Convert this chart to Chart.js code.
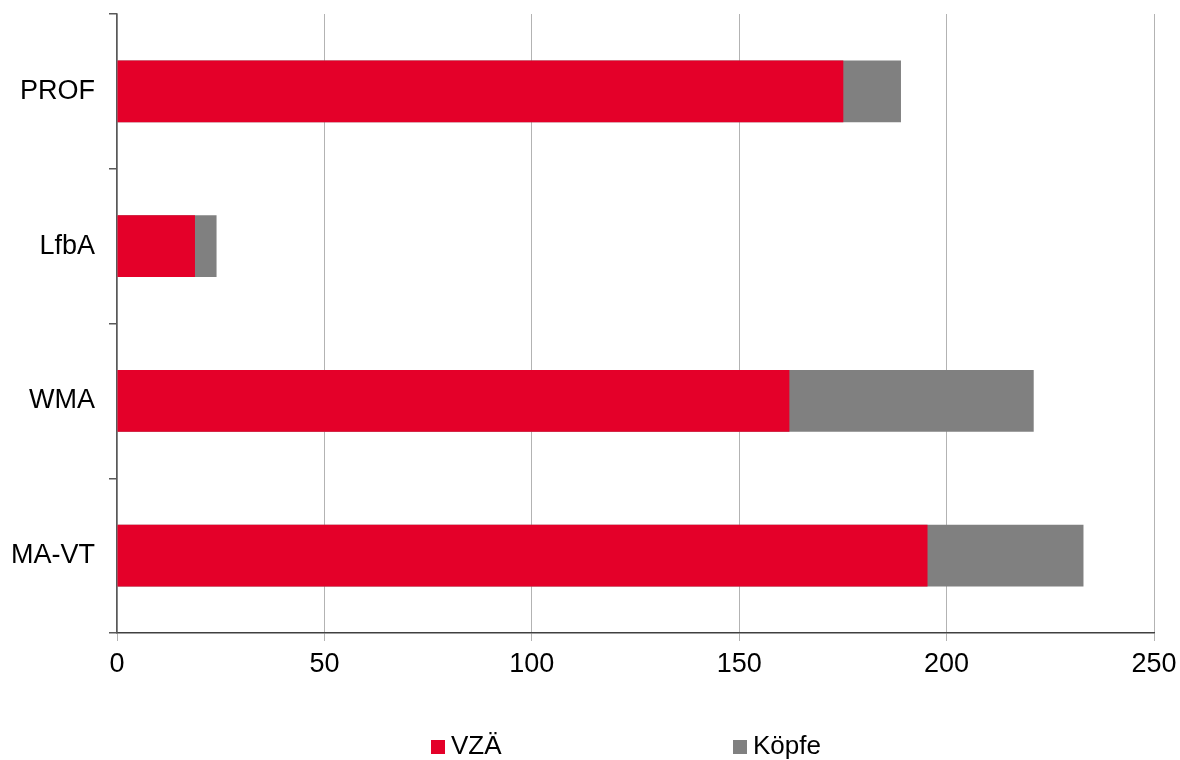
<!DOCTYPE html>
<html>
<head>
<meta charset="utf-8">
<script src="https://cdn.jsdelivr.net/npm/chart.js@4"></script>
<style>
  body { margin: 0; background: #fff; font-family: "Liberation Sans", Arial, sans-serif; }
  #wrap { position: relative; width: 1180px; height: 760px; }
  #legend { position: absolute; left: 0; top: 729px; width: 1180px; height: 32px; }
  .item { position: absolute; top: 0; font-size: 26px; line-height: 32px; color: #000; white-space: nowrap; }
  .box { display: inline-block; width: 14px; height: 14px; margin-right: 6px; vertical-align: 0px; }
</style>
</head>
<body>
<div id="wrap">
  <canvas id="chart" width="1180" height="760"></canvas>
  <div id="legend"></div>
</div>
<script>
// data
const categories = ['PROF', 'LfbA', 'WMA', 'MA-VT'];
const vzae = [175.1, 18.8, 162.1, 195.4];   // Vollzeitäquivalente
const koepfe = [189, 24, 221, 233];          // Köpfe (drawn behind VZÄ)
const xTicks = [0, 50, 100, 150, 200, 250];

const red = '#E40029';
const grey = '#808080';
const fontFamily = '"Liberation Sans", Arial, sans-serif';

var chart = new Chart(document.getElementById('chart').getContext('2d'), {
    type: 'bar',
    data: {
        labels: categories,
        datasets: [
            {
                label: 'VZÄ',
                data: vzae,
                backgroundColor: red,
                borderWidth: 0,
                grouped: false,
                barPercentage: 0.4,
                categoryPercentage: 1
            },
            {
                label: 'Köpfe',
                data: koepfe,
                backgroundColor: grey,
                borderWidth: 0,
                grouped: false,
                barPercentage: 0.4,
                categoryPercentage: 1
            }
        ]
    },
    options: {
        indexAxis: 'y',
        responsive: false,
        animation: false,
        layout: {
            padding: { top: 14, right: 26, left: 0, bottom: 60 }
        },
        scales: {
            x: {
                min: 0,
                max: 250,
                afterBuildTicks: function (scale) {
                    scale.ticks = xTicks.map(function (v) { return { value: v }; });
                },
                afterFit: function (scale) {
                    scale.height = 67;
                    scale.paddingLeft = 0;
                    scale.paddingRight = 0;
                },
                grid: {
                    color: '#b3b3b3',
                    lineWidth: 1,
                    tickLength: 8,
                    drawTicks: true
                },
                border: { color: '#404040', width: 1.5 },
                ticks: {
                    color: '#000',
                    padding: 7,
                    font: { family: fontFamily, size: 27 }
                }
            },
            y: {
                afterFit: function (scale) {
                    scale.width = 117;
                    scale.paddingTop = 0;
                    scale.paddingBottom = 0;
                },
                grid: {
                    offset: true,
                    drawOnChartArea: false,
                    drawTicks: true,
                    tickLength: 8,
                    color: '#595959',
                    lineWidth: 1.5
                },
                border: { color: '#595959', width: 1.5 },
                ticks: {
                    color: '#000',
                    padding: 14,
                    font: { family: fontFamily, size: 27 }
                }
            }
        },
        plugins: {
            legend: { display: false },
            tooltip: { enabled: false }
        }
    }
});

// html legend below the chart
var legend = document.getElementById('legend');
var legendX = [431, 733];
chart.data.datasets.forEach(function (ds, i) {
    var item = document.createElement('div');
    item.className = 'item';
    item.style.left = legendX[i] + 'px';
    item.innerHTML = '<span class="box" style="background:' + ds.backgroundColor + '"></span>' + ds.label;
    legend.appendChild(item);
});
</script>
</body>
</html>
